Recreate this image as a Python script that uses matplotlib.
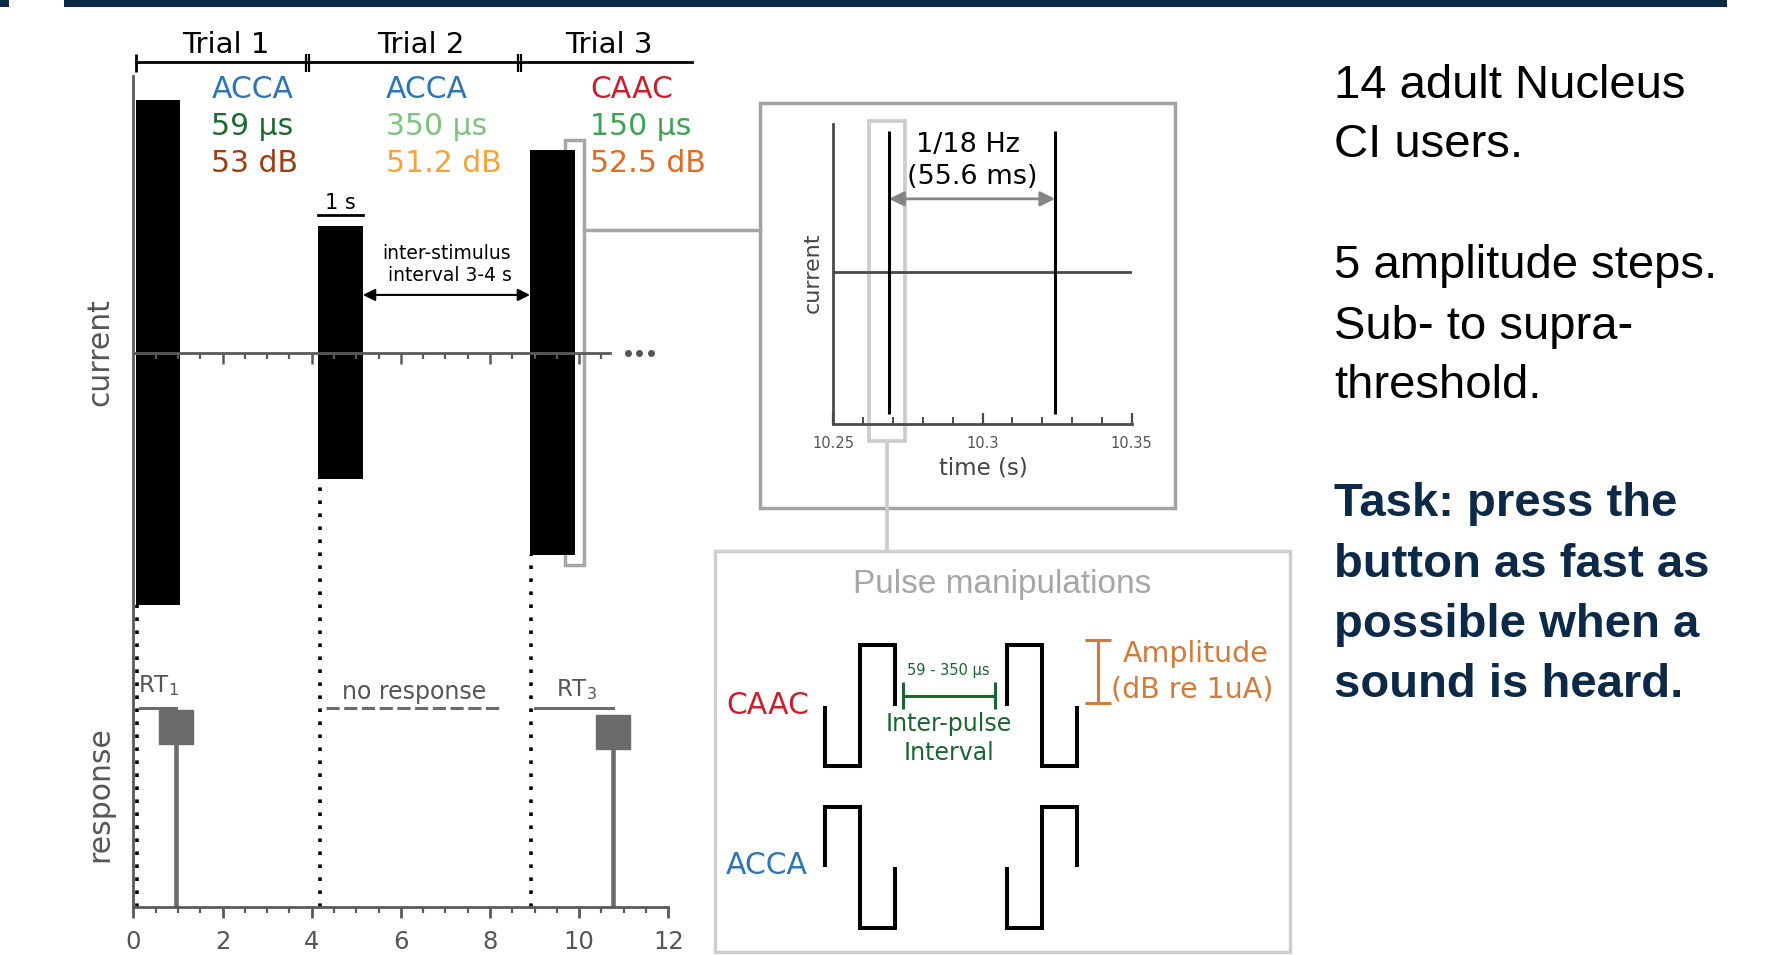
import numpy as np
import matplotlib.pyplot as plt
from matplotlib.patches import Rectangle

W, H = 1773, 955

# trial sequence: onset of each 1 s pulse train and its half height (a.u.)
trial_names = ['Trial 1', 'Trial 2', 'Trial 3']
trial_name_x = [2.08, 6.44, 10.66]
trial_edges = [0.06, 3.9, 8.67]
trial_end = 12.53
onsets = [0.05, 4.15, 8.9]
stim_dur = 1.0
amplitudes = [2.23, 1.12, 1.79]
polarity = ['ACCA', 'ACCA', 'CAAC']
ipi_labels = ['59 µs', '350 µs', '150 µs']
level_labels = ['53 dB', '51.2 dB', '52.5 dB']
label_x = [1.75, 5.66, 10.25]

# button presses (None = no response)
resp_times = [0.95, None, 10.76]
resp_heights = [1.59, None, 1.55]

# zoomed view of the pulse train
pulse_times = [10.2687, 10.3243]
zoom_ticks = [10.25, 10.3, 10.35]
zoom_ticklabels = ['10.25', '10.3', '10.35']

# schematic pulse shapes
pulse_codes = ['CAAC', 'ACCA']
pulse_gap = 3.22

right_lines = [('14 adult Nucleus', False), ('CI users.', False),
               ('5 amplitude steps.', False), ('Sub- to supra-', False), ('threshold.', False),
               ('Task: press the', True), ('button as fast as', True),
               ('possible when a', True), ('sound is heard.', True)]
right_y = [82.5, 141.3, 262.3, 323.4, 382.2, 500.9, 562, 621.9, 681.8]

pol_colors = {'ACCA': '#2e75b6', 'CAAC': '#c8202f'}
ipi_colors = ['#1b6b2f', '#7fc27d', '#3da354']
level_colors = ['#9c3d14', '#f6a33e', '#e26b1e']
AXC = '#5a5a5a'
RC = '#6b6b6b'
NAVY = '#0c2a48'
DY = 2.5  # small downward nudge for centred text

fig = plt.figure(figsize=(W / 100, H / 100), dpi=100)


def px_axes(x0, y0, x1, y1):
    a = fig.add_axes([x0 / W, 1 - y1 / H, (x1 - x0) / W, (y1 - y0) / H])
    a.set_facecolor('none')
    return a


# overlay in pixel units for frames, connectors and free text
ov = px_axes(0, 0, W, H)
ov.set_xlim(0, W)
ov.set_ylim(H, 0)
ov.axis('off')

ov.add_patch(Rectangle((64, 0), 1663, 7, color=NAVY, lw=0))
ov.add_patch(Rectangle((0, 0), 9, 7, color=NAVY, lw=0))

# ---- left panel: stimulus and response time line ----
ax = px_axes(133.4, 76, 668.2, 907)
ax.set_xlim(0, 12)
ax.set_ylim(0, 7.345)
for s in ['top', 'right']:
    ax.spines[s].set_visible(False)
for s in ['left', 'bottom']:
    ax.spines[s].set_color(AXC)
    ax.spines[s].set_linewidth(2)
ax.set_yticks([])
ax.set_xticks(np.arange(0, 13, 2))
ax.set_xticks(np.arange(0, 12.01, 0.5), minor=True)
ax.tick_params(axis='x', which='major', direction='out', length=8, width=2,
               color=AXC, labelsize=17.5, labelcolor='#555555', pad=8.5)
ax.tick_params(axis='x', which='minor', direction='out', length=4.3, width=1.6, color=AXC)

baseline = 4.9
ax.plot([0, 10.7], [baseline, baseline], color=AXC, lw=2, zorder=4)
base_ticks = np.arange(0.5, 10.51, 0.5)
ax.vlines(base_ticks[base_ticks % 2 != 0], baseline - 0.053, baseline, color=AXC, lw=1.6, zorder=4)
ax.vlines(base_ticks[base_ticks % 2 == 0], baseline - 0.097, baseline, color=AXC, lw=1.8, zorder=4)
ax.plot([11.09, 11.34, 11.62], [baseline] * 3, 'o', ms=4, color='#555555', clip_on=False)

ax.bar(onsets, [2 * a for a in amplitudes], width=stim_dur,
       bottom=[baseline - a for a in amplitudes], align='edge', color='black', zorder=3)

for on, a in zip(onsets, amplitudes):
    ax.plot([on + 0.03, on + 0.03], [0, baseline - a], ls=(0, (1, 2.6)), color='black', lw=2.6, zorder=2)

# zoom frame on the third train
ax.add_patch(Rectangle((9.68, 3.02), 0.43, 3.76, fill=False, ec='#a6a6a6', lw=2.5,
                       zorder=1, clip_on=False))

# trial brackets
br_y = 7.47
ax.plot([trial_edges[0], trial_end], [br_y, br_y], color='black', lw=2, clip_on=False)
ax.vlines([trial_edges[0]], br_y - 0.09, br_y + 0.07, color='black', lw=2, clip_on=False)
for e in trial_edges[1:]:
    ax.vlines([e - 0.035, e + 0.035], br_y - 0.09, br_y + 0.07, color='black', lw=1.6, clip_on=False)
for name, xc in zip(trial_names, trial_name_x):
    ax.text(xc, 7.62, name, ha='center', va='center', fontsize=21, clip_on=False)

for i in range(3):
    ax.text(label_x[i], 7.23, polarity[i], color=pol_colors[polarity[i]], fontsize=21.5, va='center')
    ax.text(label_x[i], 6.90, ipi_labels[i], color=ipi_colors[i], fontsize=21.5, va='center')
    ax.text(label_x[i], 6.57, level_labels[i], color=level_colors[i], fontsize=21.5, va='center')

# 1 s scale bar and inter-stimulus interval
ax.plot([onsets[1], onsets[1] + stim_dur], [6.12, 6.12], color='black', lw=2)
ax.text(onsets[1] + 0.5, 6.22, '1 s', ha='center', va='center', fontsize=15)
ax.text(7.03, 5.78, 'inter-stimulus', ha='center', va='center', fontsize=13.5)
ax.text(7.10, 5.58, 'interval 3-4 s', ha='center', va='center', fontsize=13.5)
ax.annotate('', xy=(onsets[2], 5.41), xytext=(onsets[1] + stim_dur, 5.41),
            arrowprops=dict(arrowstyle='<|-|>', color='black', lw=1.5,
                            shrinkA=0, shrinkB=0, mutation_scale=18))

# responses
rt_y = 1.76
for i, (on, rt, h) in enumerate(zip(onsets, resp_times, resp_heights)):
    if rt is None:
        ax.plot([on + 0.17, onsets[i + 1] - 0.6], [rt_y, rt_y], color=RC, lw=2.2, ls=(0, (4.3, 1.5)))
        ax.text((on + onsets[i + 1] - 0.43) / 2, 1.90, 'no response', ha='center', va='center',
                fontsize=17, color='#555555')
    else:
        ax.plot([on + 0.1, rt], [rt_y, rt_y], color=RC, lw=2.2)
        ax.plot([rt, rt], [0, h], color=RC, lw=3.3, solid_capstyle='butt')
        ax.plot([rt], [h], 's', ms=24.5, color=RC)
ax.text(0.1, 1.96, r'RT$_1$', fontsize=16.5, color='#555555', va='center')
ax.text(9.48, 1.92, r'RT$_3$', fontsize=16.5, color='#555555', va='center')

ov.text(99.5, 352, 'current', rotation=90, ha='center', va='center', fontsize=21.5, color='#555555')
ov.text(99.5, 794, 'response', rotation=90, ha='center', va='center', fontsize=21.5, color='#555555')

# ---- zoomed pulse train ----
ov.plot([584, 760], [230, 230], color='#a6a6a6', lw=2.5)
ov.add_patch(Rectangle((760, 103), 415, 405, fill=False, ec='#a3a3a3', lw=2.5))
ov.add_patch(Rectangle((869.3, 120.7), 36, 320, fill=False, ec='#cccccc', lw=2.7))
ov.plot([887.3, 887.3], [440.7, 550.6], color='#cccccc', lw=2.7)

ins = px_axes(833.3, 124, 1131.8, 424)
ins.set_xlim(10.25, 10.35)
ins.set_ylim(-1.071, 1.049)
for s in ['top', 'right']:
    ins.spines[s].set_visible(False)
for s in ['left', 'bottom']:
    ins.spines[s].set_color('#4a4a4a')
    ins.spines[s].set_linewidth(2)
ins.set_yticks([])
ins.set_xticks(zoom_ticks)
ins.set_xticklabels(zoom_ticklabels)
ins.set_xticks(np.arange(10.25, 10.351, 0.01), minor=True)
ins.tick_params(axis='x', which='major', direction='in', length=8, width=1.6,
                color='#4a4a4a', labelsize=10.5, labelcolor='#555555', pad=9)
ins.tick_params(axis='x', which='minor', direction='in', length=5, width=1.4, color='#4a4a4a')
ins.axhline(0, color='#4a4a4a', lw=2)
ins.vlines(pulse_times, -1, 1, color='black', lw=2.2)
period_ms = (pulse_times[1] - pulse_times[0]) * 1000
ins.annotate('', xy=(pulse_times[1], 0.52), xytext=(pulse_times[0], 0.52),
             arrowprops=dict(arrowstyle='<|-|>', color='#858585', lw=2,
                             shrinkA=0, shrinkB=0, mutation_scale=22))
ov.text(968, 143 + DY, '1/18 Hz', ha='center', va='center', fontsize=19.5)
ov.text(972, 175 + DY, f'({period_ms:.1f} ms)', ha='center', va='center', fontsize=19.5)
ov.text(813, 273, 'current', rotation=90, ha='center', va='center', fontsize=16, color='#444444')
ov.text(983, 467 + 1, 'time (s)', ha='center', va='center', fontsize=16.5, color='#444444')

# ---- pulse manipulations ----
ov.add_patch(Rectangle((714.6, 550.6), 575.4, 401.4, fill=False, ec='#cfcfcf', lw=2.5))
ov.text(1001.8, 582 + DY, 'Pulse manipulations', ha='center', va='center', fontsize=24,
        color='#a6a6a6', fontfamily='Liberation Sans')

pa = px_axes(790, 630, 1130, 940)
pa.set_xlim(-1.006, 8.736)
pa.set_ylim(-3.874, 1.2496)
pa.axis('off')


def waveform(code, gap):
    sign = {'C': -1, 'A': 1}
    s = [sign[c] for c in code]
    x = [0, 0, 1, 1, 2, 2, np.nan, 2 + gap, 2 + gap, 3 + gap, 3 + gap, 4 + gap, 4 + gap]
    y = [0, s[0], s[0], s[1], s[1], 0, np.nan, 0, s[2], s[2], s[3], s[3], 0]
    return np.array(x), np.array(y, dtype=float)


offsets = [0, -2.668]
label_y = [703, 862.7]
for code, off, ly in zip(pulse_codes, offsets, label_y):
    x, y = waveform(code, pulse_gap)
    pa.plot(x, y + off, color='black', lw=2.9, solid_joinstyle='miter', solid_capstyle='butt')
    ov.text(726, ly + DY, code, color=pol_colors[code], fontsize=21.5, va='center', ha='left')

# inter-pulse interval and amplitude brackets
GRN = '#1b6630'
pa.plot([2.23, 4.86], [0.167, 0.167], color=GRN, lw=2.2)
pa.vlines([2.23, 4.86], -0.056, 0.39, color=GRN, lw=2.2)
ov.text(948, 669 + 1, '59 - 350 µs', ha='center', va='center', fontsize=10.5, color=GRN)
ov.text(949, 721 + DY, 'Inter-pulse', ha='center', va='center', fontsize=17, color=GRN)
ov.text(949, 750 + DY, 'Interval', ha='center', va='center', fontsize=17, color=GRN)

ORG = '#d07a3c'
pa.plot([7.82, 7.82], [0.04, 1.08], color=ORG, lw=2.2, clip_on=False)
pa.hlines([0.04, 1.08], 7.44, 8.2, color=ORG, lw=2.2, clip_on=False)
ov.text(1122.9, 652 + 1.5, 'Amplitude', ha='left', va='center', fontsize=20.5, color=ORG)
ov.text(1111.4, 687 + DY, '(dB re 1uA)', ha='left', va='center', fontsize=20.5, color=ORG)

# ---- study notes ----
for (txt, bold), y in zip(right_lines, right_y):
    ov.text(1334, y + 3.4, txt, ha='left', va='center', fontsize=34, fontfamily='Liberation Sans',
            fontweight='bold' if bold else 'normal', color=NAVY if bold else 'black')

fig.savefig('out.png', dpi=100)
